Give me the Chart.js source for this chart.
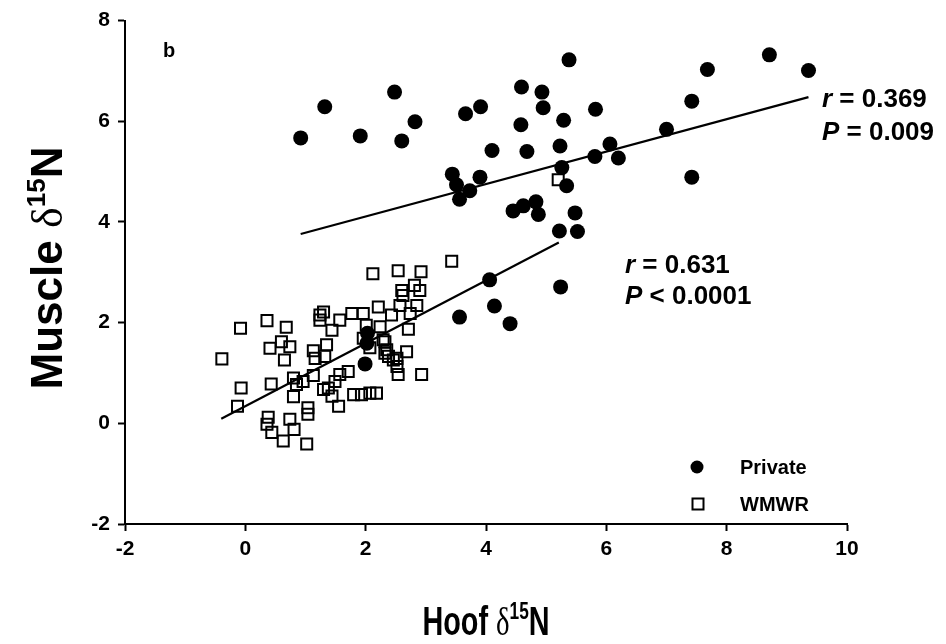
<!DOCTYPE html>
<html>
<head>
<meta charset="utf-8">
<script src="https://cdn.jsdelivr.net/npm/chart.js@4.4.1/dist/chart.umd.min.js"></script>
<style>
  html, body { margin: 0; padding: 0; background: #fff; }
  #wrap { position: relative; width: 946px; height: 644px; }
</style>
</head>
<body>
<div id="wrap"><canvas id="c" width="946" height="644"></canvas></div>
<script>
// ---- Data ----
const xTickValues = [-2, 0, 2, 4, 6, 8, 10];
const yTickValues = [-2, 0, 2, 4, 6, 8];

const privateHoof = [0.92, 1.32, 1.91, 2.48, 2.82, 2.60, 3.66, 3.91, 4.10, 3.44, 3.51, 3.73, 3.56, 3.90,
  4.59, 4.93, 4.95, 5.82, 4.58, 5.29, 5.23, 4.68, 6.06, 5.81, 6.20, 7.00, 7.42, 7.68, 8.71, 9.36,
  5.38, 5.26, 5.34, 7.42, 4.45, 4.62, 4.83, 4.87, 5.48, 5.22, 5.52, 4.06, 5.24, 4.14, 3.56, 4.40,
  2.03, 2.02, 1.99];
const privateMuscle = [5.67, 6.29, 5.71, 6.58, 5.99, 5.61, 6.15, 6.29, 5.42, 4.95, 4.74, 4.62, 4.45, 4.89,
  6.68, 6.58, 6.27, 6.24, 5.93, 6.02, 5.51, 5.40, 5.55, 5.30, 5.27, 5.84, 6.40, 7.03, 7.32, 7.01,
  7.22, 5.08, 4.72, 4.89, 4.22, 4.32, 4.40, 4.15, 4.18, 3.82, 3.81, 2.85, 2.71, 2.33, 2.11, 1.98,
  1.79, 1.59, 1.18];

const wmwrHoof = [2.12, -0.08, 0.36, 0.68, -0.39, 0.41, 0.60, 0.74, 0.65, 1.13, 1.16, 1.24, 1.24,
  -0.07, 0.43, 0.80, 0.85, 0.96, 1.13, 0.80, 1.04, 1.04, -0.13, 0.38, 0.36, 0.44, 0.63, 0.74, 0.81,
  1.02, 1.30, 2.54, 2.92, 2.60, 2.81, 2.90, 2.57, 2.85, 2.74, 2.71, 2.21, 2.43, 1.96, 1.77, 1.57,
  1.44, 1.30, 2.29, 2.35, 2.38, 2.52, 2.68, 2.54, 2.93, 1.71, 1.57, 1.49, 1.38, 1.44, 1.55, 1.80,
  1.93, 2.07, 2.18, 1.35, 1.32, 3.43, 5.20, 2.24, 2.32, 2.32, 2.46, 2.62, 2.01, 2.07, 1.96, 2.52];
const wmwrMuscle = [2.97, 1.89, 2.04, 1.91, 1.28, 1.49, 1.62, 1.52, 1.26, 1.44, 1.29, 2.15, 2.05,
  0.70, 0.78, 0.90, 0.77, 0.83, 0.95, 0.53, 0.31, 0.18, 0.34, 0.12, -0.02, -0.18, -0.35, 0.08, -0.12,
  -0.41, 0.67, 3.03, 3.01, 2.64, 2.74, 2.64, 2.34, 2.34, 2.18, 1.87, 2.31, 2.15, 2.18, 2.18, 2.05,
  1.85, 2.21, 1.66, 1.46, 1.33, 1.29, 1.42, 0.97, 0.97, 1.03, 0.97, 0.83, 0.70, 0.54, 0.34, 0.57,
  0.57, 0.60, 0.60, 1.56, 1.33, 3.22, 4.84, 1.92, 1.62, 1.39, 1.26, 2.54, 1.95, 1.50, 1.69, 1.13];

const privateFitHoof = [0.92, 9.36];
const privateFitMuscle = [3.76, 6.48];
const wmwrFitHoof = [-0.40, 5.21];
const wmwrFitMuscle = [0.09, 3.59];

const seriesNames = ['Private', 'WMWR'];
const statsPrivate = ['r', ' = 0.369', 'P', ' = 0.009'];
const statsWmwr = ['r', ' = 0.631', 'P', ' < 0.0001'];

// ---- helpers ----
const zip = (xs, ys) => xs.map((x, i) => ({ x: x, y: ys[i] }));
const SANS = '"Liberation Sans", Arial, sans-serif';
const SERIF = '"Liberation Serif", "Times New Roman", serif';

function drawParts(ctx, parts, x, y, align) {
  let total = 0;
  parts.forEach(p => { ctx.font = p.font; p.w = ctx.measureText(p.t).width; total += p.w; });
  let cx = align === 'center' ? x - total / 2 : x;
  parts.forEach(p => {
    ctx.font = p.font;
    ctx.fillText(p.t, cx, y + (p.dy || 0));
    cx += p.w;
  });
}

const textPlugin = {
  id: 'texts',
  afterDraw(chart) {
    const ctx = chart.ctx;
    ctx.save();
    ctx.fillStyle = '#000';
    ctx.textBaseline = 'alphabetic';
    ctx.textAlign = 'left';

    // panel letter
    ctx.font = 'bold 20px ' + SANS;
    ctx.fillText('b', 163, 57);

    // stats
    const big = 'bold 26px ' + SANS;
    const bigI = 'italic bold 26px ' + SANS;
    drawParts(ctx, [{ t: statsPrivate[0], font: bigI }, { t: statsPrivate[1], font: big }], 822, 107, 'left');
    drawParts(ctx, [{ t: statsPrivate[2], font: bigI }, { t: statsPrivate[3], font: big }], 822, 140, 'left');
    drawParts(ctx, [{ t: statsWmwr[0], font: bigI }, { t: statsWmwr[1], font: big }], 625, 273, 'left');
    drawParts(ctx, [{ t: statsWmwr[2], font: bigI }, { t: statsWmwr[3], font: big }], 625, 304, 'left');

    // legend
    ctx.beginPath();
    ctx.arc(697, 467, 6.5, 0, Math.PI * 2);
    ctx.fill();
    ctx.lineWidth = 2;
    ctx.strokeStyle = '#000';
    ctx.strokeRect(692.5, 498.5, 11, 11);
    ctx.font = 'bold 20px ' + SANS;
    ctx.textBaseline = 'middle';
    ctx.fillText(seriesNames[0], 740, 468);
    ctx.fillText(seriesNames[1], 740, 505);
    ctx.textBaseline = 'alphabetic';

    // x axis title (narrow letters, as in the reference)
    ctx.save();
    ctx.translate(486, 635);
    ctx.scale(0.72, 1);
    drawParts(ctx, [
      { t: 'Hoof ', font: 'bold 40px ' + SANS }, { t: 'δ', font: '40px ' + SERIF },
      { t: '15', font: 'bold 24px ' + SANS, dy: -16 }, { t: 'N', font: 'bold 40px ' + SANS }
    ], 0, 0, 'center');
    ctx.restore();

    // y axis title
    ctx.save();
    ctx.translate(62, 268);
    ctx.rotate(-Math.PI / 2);
    drawParts(ctx, [
      { t: 'Muscle ', font: 'bold 44px ' + SANS }, { t: 'δ', font: '44px ' + SERIF },
      { t: '15', font: 'bold 26px ' + SANS, dy: -17 }, { t: 'N', font: 'bold 44px ' + SANS }
    ], 0, 0, 'center');
    ctx.restore();
    ctx.restore();
  }
};

const axisCommon = {
  type: 'linear',
  grid: { display: true, drawOnChartArea: false, drawTicks: true, tickLength: 7, color: '#000', tickWidth: 2 },
  border: { display: true, color: '#000', width: 2 },
};

new Chart(document.getElementById('c'), {
  type: 'scatter',
  data: {
    datasets: [
      { label: seriesNames[0], data: zip(privateHoof, privateMuscle), pointStyle: 'circle', pointRadius: 7.5,
        backgroundColor: '#000', borderColor: '#000', borderWidth: 0, order: 2 },
      { label: seriesNames[1], data: zip(wmwrHoof, wmwrMuscle), pointStyle: 'rect', pointRadius: 7.8,
        backgroundColor: 'rgba(0,0,0,0)', borderColor: '#000', borderWidth: 2, order: 3 },
      { label: 'Private fit', data: zip(privateFitHoof, privateFitMuscle), showLine: true, pointRadius: 0,
        borderColor: '#000', borderWidth: 2.2, order: 1 },
      { label: 'WMWR fit', data: zip(wmwrFitHoof, wmwrFitMuscle), showLine: true, pointRadius: 0,
        borderColor: '#000', borderWidth: 2.2, order: 1 }
    ]
  },
  options: {
    responsive: false,
    animation: false,
    devicePixelRatio: 1,
    layout: { padding: { top: 18, right: 99, left: 0, bottom: 0 } },
    plugins: { legend: { display: false }, tooltip: { enabled: false } },
    scales: {
      x: Object.assign({}, axisCommon, {
        min: -2, max: 10,
        afterBuildTicks: s => { s.ticks = xTickValues.map(v => ({ value: v })); },
        afterFit: s => { s.height = 120; },
        ticks: { color: '#000', padding: 6, font: { family: SANS, size: 21, weight: 'bold' } }
      }),
      y: Object.assign({}, axisCommon, {
        min: -2, max: 8,
        afterBuildTicks: s => { s.ticks = yTickValues.map(v => ({ value: v })); },
        afterFit: s => { s.width = 125; },
        ticks: { color: '#000', padding: 8, font: { family: SANS, size: 21, weight: 'bold' } }
      })
    }
  },
  plugins: [textPlugin]
});
</script>
</body>
</html>
